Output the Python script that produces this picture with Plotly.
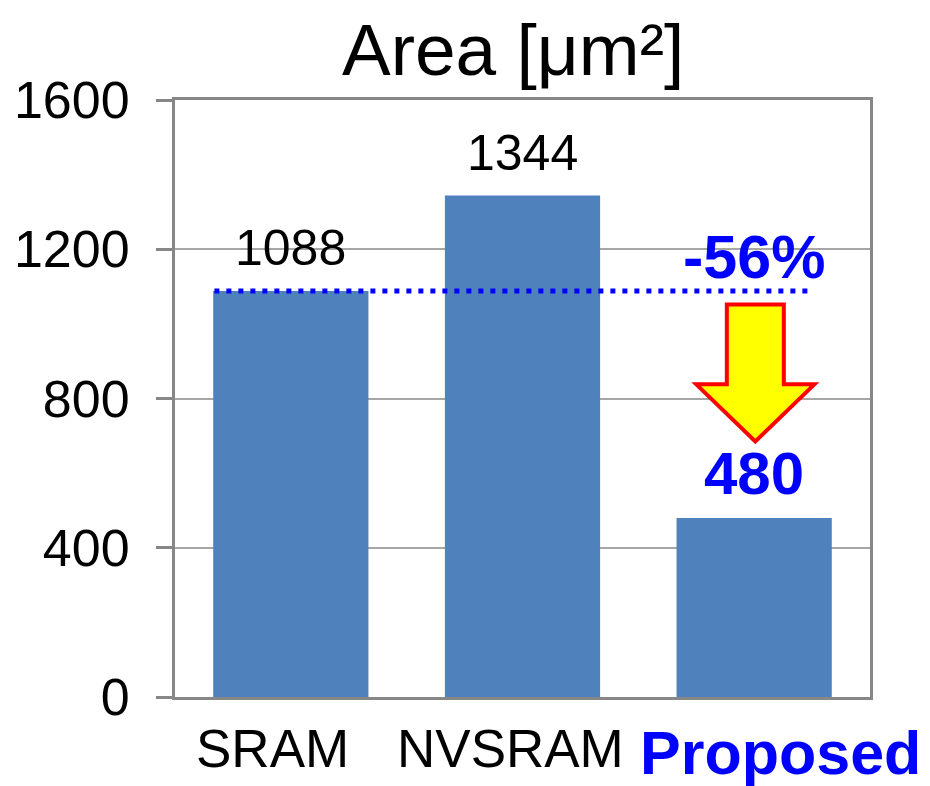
import plotly.graph_objects as go

# Cell area comparison
categories = ["SRAM", "NVSRAM", "Proposed"]
areas = [1088, 1344, 480]
y_ticks = [0, 400, 800, 1200, 1600]
reduction_label = "-56%"

FONT = "Liberation Sans, Arial, sans-serif"
BAR_COLOR = "#4F81BD"
FRAME = "#878787"
GRID = "#A6A6A6"
BLUE = "#0000FF"

x_idx = list(range(len(categories)))

fig = go.Figure(
    go.Bar(
        x=x_idx,
        y=areas,
        marker=dict(color=BAR_COLOR, line=dict(width=0)),
        width=0.67,
        hoverinfo="skip",
    )
)

# value labels above each bar
label_styles = [
    dict(color="black", size=50, weight="normal", yshift=13),
    dict(color="black", size=50, weight="normal", yshift=13),
    dict(color=BLUE, size=60, weight="bold", yshift=9),
]
for i, (v, st) in enumerate(zip(areas, label_styles)):
    fig.add_annotation(
        x=i, y=v, text=str(v), showarrow=False, yanchor="bottom",
        yshift=st["yshift"],
        font=dict(family=FONT, size=st["size"], color=st["color"], weight=st["weight"]),
    )

# category labels below the axis
cat_styles = [
    dict(color="black", size=53, weight="normal", xshift=-18),
    dict(color="black", size=53, weight="normal", xshift=-12),
    dict(color=BLUE, size=61, weight="bold", xshift=26),
]
for i, (c, st) in enumerate(zip(categories, cat_styles)):
    fig.add_annotation(
        x=i, y=0, text=c, showarrow=False, yanchor="top", yshift=-20,
        xshift=st["xshift"],
        font=dict(family=FONT, size=st["size"], color=st["color"], weight=st["weight"]),
    )

# reference level of the SRAM cell
fig.add_shape(
    type="line", xref="x", yref="y",
    x0=-0.33, x1=2.23, y0=areas[0], y1=areas[0],
    line=dict(color=BLUE, width=5, dash="5px,7px"),
)

# reduction arrow between the SRAM level and the proposed value
cx = 2.005
shaft, head = 0.123, 0.255
y_top, y_neck, y_tip = 1052, 838, 685
path = (
    f"M {cx - shaft} {y_top} L {cx + shaft} {y_top} L {cx + shaft} {y_neck} "
    f"L {cx + head} {y_neck} L {cx} {y_tip} L {cx - head} {y_neck} "
    f"L {cx - shaft} {y_neck} Z"
)
fig.add_shape(
    type="path", path=path, xref="x", yref="y",
    fillcolor="#FFFF00", line=dict(color="#FF0000", width=4),
)

fig.add_annotation(
    x=2, y=areas[0], text=reduction_label, showarrow=False, yanchor="bottom",
    yshift=-2, xshift=0,
    font=dict(family=FONT, size=61, color=BLUE, weight="bold"),
)

# title
fig.add_annotation(
    xref="paper", yref="paper", x=0.487, y=1, yanchor="bottom", yshift=8,
    text="Area [μm²]", showarrow=False,
    font=dict(family=FONT, size=73, color="black"),
)

fig.update_layout(
    width=930, height=786,
    margin=dict(l=175, r=60, t=100, b=89),
    paper_bgcolor="white", plot_bgcolor="white",
    showlegend=False,
    bargap=0.33,
)
fig.update_xaxes(
    range=[-0.5, 2.5], showticklabels=False, ticks="",
    showline=True, linecolor=FRAME, linewidth=3, mirror=True,
    showgrid=False, zeroline=False,
)
fig.update_yaxes(
    range=[0, 1600], tickvals=y_ticks,
    ticks="outside", ticklen=16, tickwidth=3, tickcolor=FRAME,
    ticklabelstandoff=16,
    tickfont=dict(family=FONT, size=52, color="black"),
    showline=True, linecolor=FRAME, linewidth=3, mirror=True,
    showgrid=True, gridcolor=GRID, gridwidth=2, zeroline=False,
)

fig.write_html("out.html")
